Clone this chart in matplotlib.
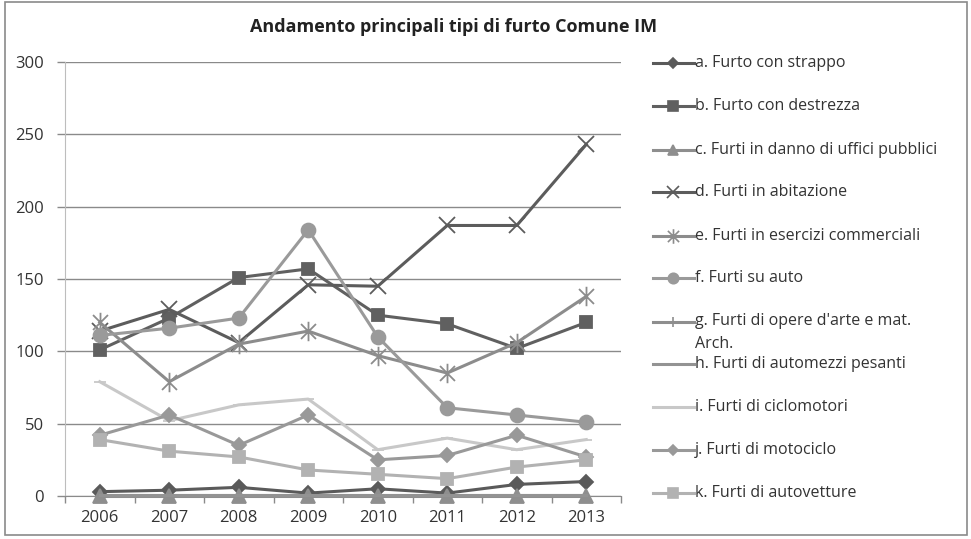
import matplotlib
matplotlib.use("Agg")
import matplotlib.pyplot as plt
from matplotlib.lines import Line2D
from matplotlib.patches import Rectangle
from matplotlib.path import Path

plt.rcParams["font.family"] = ["Open Sans", "DejaVu Sans"]

years = ["2006", "2007", "2008", "2009", "2010", "2011", "2012", "2013"]

furto_strappo = [3, 4, 6, 2, 5, 2, 8, 10]
furto_destrezza = [101, 123, 151, 157, 125, 119, 102, 120]
uffici_pubblici = [0, 0, 0, 0, 0, 0, 0, 0]
abitazione = [114, 129, 106, 146, 145, 187, 187, 243]
esercizi_comm = [120, 79, 105, 114, 97, 85, 106, 138]
su_auto = [111, 116, 123, 184, 110, 61, 56, 51]
opere_arte = [1, 1, 1, 1, 1, 1, 1, 1]
automezzi_pesanti = [1, 1, 1, 1, 1, 1, 1, 1]
ciclomotori = [79, 52, 63, 67, 32, 40, 32, 39]
motociclo = [42, 56, 35, 56, 25, 28, 42, 27]
autovetture = [39, 31, 27, 18, 15, 12, 20, 25]

labels = [
    "a. Furto con strappo",
    "b. Furto con destrezza",
    "c. Furti in danno di uffici pubblici",
    "d. Furti in abitazione",
    "e. Furti in esercizi commerciali",
    "f. Furti su auto",
    "g. Furti di opere d'arte e mat.\nArch.",
    "h. Furti di automezzi pesanti",
    "i. Furti di ciclomotori",
    "j. Furti di motociclo",
    "k. Furti di autovetture",
]

# asterisk like excel: x plus vertical bar
star_path = Path(
    [(-1, -1), (1, 1), (-1, 1), (1, -1), (0, -1.3), (0, 1.3)],
    [Path.MOVETO, Path.LINETO, Path.MOVETO, Path.LINETO, Path.MOVETO, Path.LINETO],
)

# (values, colour, marker, size, show marker in legend)
series = [
    (furto_strappo, "#5a5a5a", "D", 7, True),
    (furto_destrezza, "#606060", "s", 9, True),
    (uffici_pubblici, "#8e8e8e", "^", 10, True),
    (abitazione, "#5c5c5c", "x", 11, True),
    (esercizi_comm, "#8c8c8c", star_path, 14, True),
    (su_auto, "#9a9a9a", "o", 10, True),
    (opere_arte, "#8e8e8e", "|", 9, True),
    (automezzi_pesanti, "#939393", None, 0, False),
    (ciclomotori, "#c8c8c8", "_", 9, False),
    (motociclo, "#999999", "D", 7, True),
    (autovetture, "#b2b2b2", "s", 9, True),
]

W, H = 971, 539
fig = plt.figure(figsize=(W / 100, H / 100), dpi=100)
fig.patch.set_facecolor("white")

x0, x1, y0, y1 = 65, 621, 62, 496
ax = fig.add_axes([x0 / W, 1 - y1 / H, (x1 - x0) / W, (y1 - y0) / H])

xs = list(range(len(years)))
for vals, col, mk, ms, _ in series:
    ax.plot(xs, vals, color=col, lw=2.2, marker=mk, markersize=ms,
            markerfacecolor=col, markeredgecolor=col, markeredgewidth=1.3,
            clip_on=False, zorder=3)

ax.set_xlim(-0.5, len(years) - 0.5)
ax.set_ylim(0, 300)
ax.set_yticks(range(0, 301, 50))
ax.set_xticks(xs)
ax.set_xticklabels(years)
ax.set_xticks([i - 0.5 for i in range(len(years) + 1)], minor=True)
ax.tick_params(axis="x", which="major", length=0, pad=10, labelsize=12, labelcolor="#333333")
ax.tick_params(axis="x", which="minor", length=5, width=1, color="#8a8a8a", direction="out")
ax.tick_params(axis="y", length=6, width=1, color="#8a8a8a", pad=9, labelsize=12, labelcolor="#333333")
ax.grid(axis="y", color="#8a8a8a", lw=1)
ax.set_axisbelow(True)
for s in ["top", "right"]:
    ax.spines[s].set_visible(False)
ax.spines["left"].set_color("#bdbdbd")
ax.spines["bottom"].set_color("#8a8a8a")

fig.text(454 / W, 1 - 27 / H, "Andamento principali tipi di furto Comune IM",
         ha="center", va="center", fontsize=13, fontweight="bold", color="#222222")

# legend drawn entry by entry (excel keeps uniform spacing with wrapped label)
leg_y = [63, 106, 150, 192, 236, 278, 322, 364, 407, 450, 493]
for (vals, col, mk, ms, show), lab, yy in zip(series, labels, leg_y):
    fy = 1 - yy / H
    fig.add_artist(Line2D([653 / W, 694 / W], [fy, fy], color=col, lw=2.2))
    if show:
        fig.add_artist(Line2D([673 / W], [fy], color=col, marker=mk,
                              markersize=ms * 0.75, markerfacecolor=col,
                              markeredgecolor=col, markeredgewidth=1.2))
    if "\n" in lab:
        fig.text(695 / W, fy + 9 / H, lab, ha="left", va="top",
                 fontsize=11.5, color="#333333", linespacing=1.55)
    else:
        fig.text(695 / W, fy, lab, ha="left", va="center",
                 fontsize=11.5, color="#333333")

fig.add_artist(Rectangle((5 / W, 1 - 535 / H), 962 / W, 533 / H,
                         fill=False, ec="#8a8a8a", lw=1.2, transform=fig.transFigure))

fig.savefig("out.png", dpi=100)
